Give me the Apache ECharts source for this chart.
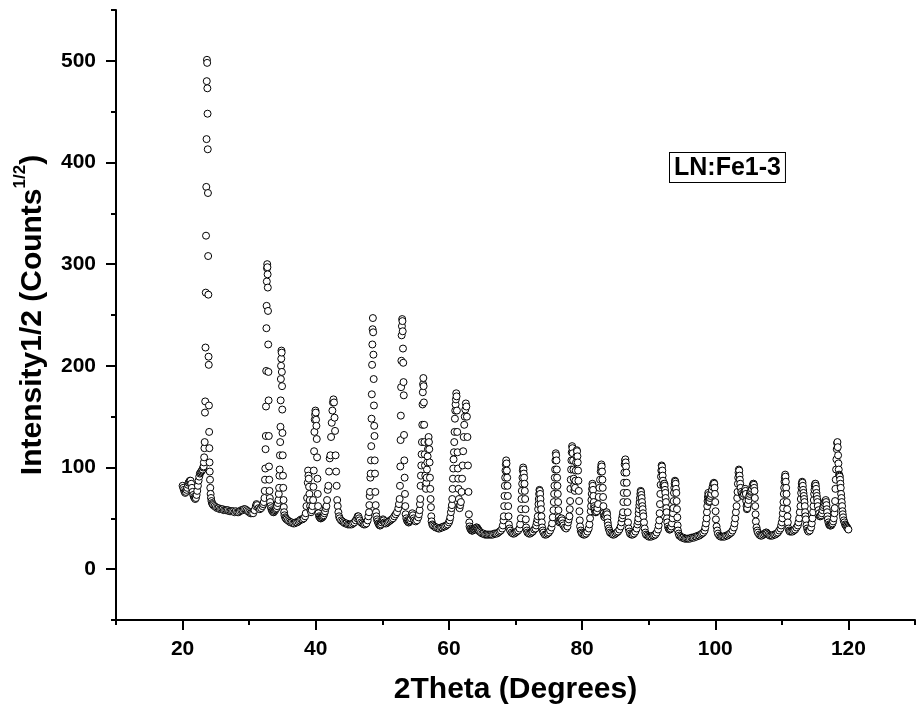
<!DOCTYPE html>
<html><head><meta charset="utf-8">
<script src="https://cdn.jsdelivr.net/npm/echarts@6/dist/echarts.min.js"></script>
<style>html,body{margin:0;padding:0;background:#fff}#c{width:918px;height:718px}</style>
</head><body><div id="c"></div>
<script>
const xTickLabels = [20, 40, 60, 80, 100, 120];
const yTickLabels = [0, 100, 200, 300, 400, 500];
const sampleLabel = 'LN:Fe1-3';
const xTitle = '2Theta (Degrees)';

// 2θ (deg), intensity^1/2
const scan20to32 = [
[20.0,82],[20.1,80],[20.2,78],[20.3,76],[20.4,75],[20.5,76],[20.6,78],[20.7,80],[20.8,83],[20.9,85],[21.0,86],[21.1,87],[21.2,87],[21.3,84],[21.4,80],[21.5,76],[21.6,73],[21.7,71],[21.8,70],[21.9,69],[22.0,70],[22.1,73],[22.2,77],[22.3,82],[22.4,87],[22.5,91],[22.6,94],[22.7,95],[22.8,96],[22.9,97],[23.0,98],[23.1,100],
[23.16,101],[23.2,105],[23.24,110],[23.28,119],[23.32,125],[23.36,154],[23.4,165],[23.44,218],[23.48,272],[23.52,328],[23.56,376],[23.6,423],[23.63,480],[23.66,501],[23.69,498],[23.72,473],[23.75,448],[23.78,413],[23.81,370],[23.84,308],[23.87,270],[23.9,209],[23.93,201],[23.96,161],[23.99,135],[24.02,119],[24.05,105],[24.08,96],[24.12,88],[24.16,80],[24.21,74],[24.27,70],[24.34,67],[24.42,65],[24.5,64],
[24.6,63],[24.8,62],[25.0,61],[25.2,60],[25.4,60],[25.6,59],[25.8,59],[26.0,59],[26.2,58],[26.4,58],[26.6,58],[26.8,58],[27.0,57],[27.2,57],[27.4,57],[27.6,57],[27.8,56],[28.0,57],[28.2,56],[28.4,56],[28.6,57],[28.8,58],[29.0,58],[29.2,59],[29.4,59],[29.6,58],[29.8,57],[30.0,56],[30.2,55],[30.4,55],[30.6,55],[30.8,58],[31.0,62],[31.1,64],[31.2,63],[31.4,60],[31.6,59],[31.8,60],[32.0,62],[32.1,64],[32.2,66]
];
const scan32to48 = [
[32.3,70],[32.34,77],[32.38,88],[32.42,99],[32.46,118],[32.5,131],[32.53,160],[32.56,195],[32.59,237],[32.62,259],[32.65,283],[32.68,296],[32.71,300],[32.74,297],[32.77,290],[32.8,277],[32.83,254],[32.86,221],[32.89,194],[32.92,166],[32.95,131],[32.98,101],[33.02,88],[33.06,77],[33.1,70],[33.15,66],[33.2,62],
[33.3,60],[33.4,58],[33.5,57],[33.6,56],[33.7,56],[33.8,57],[33.9,58],[34.0,59],[34.1,60],[34.2,62],[34.3,65],[34.4,68],
[34.45,74],[34.5,80],[34.54,92],[34.58,98],[34.62,112],[34.66,125],[34.7,140],[34.73,166],[34.76,187],[34.79,200],[34.82,207],[34.85,215],[34.88,213],[34.91,194],[34.94,180],[34.97,157],[35.0,134],[35.04,112],[35.08,92],[35.12,80],[35.16,68],[35.2,61],[35.25,56],
[35.3,53],[35.4,51],[35.5,50],[35.6,49],[35.8,48],[36.0,47],[36.2,46],[36.4,46],[36.6,45],[36.8,45],[37.0,46],[37.2,46],[37.4,47],[37.6,48],[37.8,49],[38.0,49],[38.2,50],[38.4,52],[38.5,55],[38.6,62],
[38.7,70],[38.8,85],[38.85,97],[38.9,92],[38.95,89],[39.0,81],[39.05,74],[39.1,68],[39.15,62],[39.2,58],[39.3,56],[39.4,58],[39.5,62],[39.6,68],
[39.65,81],[39.7,97],[39.75,116],[39.8,135],[39.85,147],[39.9,152],[39.95,156],[40.0,154],[40.05,147],[40.1,141],[40.15,128],[40.2,110],[40.25,89],[40.3,74],[40.35,62],[40.4,55],[40.5,52],
[40.6,51],[40.7,50],[40.8,50],[40.9,51],[41.0,51],[41.1,52],[41.2,53],[41.3,55],[41.4,57],[41.5,60],
[41.6,62],[41.7,68],[41.8,78],[41.9,82],[42.0,96],[42.1,109],[42.2,112],[42.3,130],[42.4,144],[42.5,156],[42.58,164],[42.66,167],[42.74,164],[42.82,149],[42.9,136],[42.98,112],[43.06,96],[43.14,82],[43.22,68],[43.3,62],[43.4,56],
[43.5,52],[43.6,50],[43.8,48],[44.0,47],[44.2,46],[44.4,45],[44.6,45],[44.8,44],[45.0,44],[45.2,44],[45.4,44],[45.6,45],[45.8,46],[46.0,48],[46.2,50],[46.3,52],[46.4,52],[46.5,50],[46.6,48],[46.8,46],[47.0,45],[47.2,44],[47.4,44],[47.6,45],[47.8,48],[47.9,52],[48.0,56]
];
const scan48to64 = [
[48.05,63],[48.1,72],[48.15,76],[48.2,90],[48.25,94],[48.3,107],[48.34,121],[48.38,148],[48.42,172],[48.46,201],[48.5,221],[48.54,236],[48.58,247],[48.62,233],[48.66,211],[48.7,187],[48.74,161],[48.78,141],[48.82,131],[48.86,107],[48.9,94],[48.95,76],[49.0,63],[49.05,56],[49.1,52],
[49.2,49],[49.3,47],[49.4,45],[49.5,44],[49.6,43],[49.7,43],[49.8,44],[49.9,46],[50.0,48],[50.1,49],[50.2,48],[50.3,46],[50.4,45],[50.6,45],[50.8,46],[51.0,47],[51.2,48],[51.4,49],[51.6,50],[51.8,52],[52.0,54],[52.2,56],[52.4,60],[52.5,64],
[52.6,69],[52.65,82],[52.7,101],[52.74,127],[52.78,151],[52.82,179],[52.86,205],[52.9,230],[52.94,239],[52.98,246],[53.02,244],[53.06,234],[53.1,217],[53.14,203],[53.18,184],[53.22,171],[53.26,132],[53.3,107],[53.35,90],[53.4,74],[53.45,62],[53.5,54],
[53.6,50],[53.7,48],[53.8,47],[53.9,46],[54.0,46],[54.1,47],[54.2,48],[54.3,50],[54.4,53],[54.5,55],[54.6,53],[54.7,50],[54.8,48],[55.0,47],[55.2,48],[55.4,51],[55.5,54],[55.6,58],
[55.65,64],[55.7,69],[55.75,82],[55.8,92],[55.85,102],[55.9,113],[55.95,125],[56.0,142],[56.04,162],[56.08,174],[56.12,182],[56.16,188],[56.2,180],[56.24,164],[56.28,142],[56.32,125],[56.36,113],[56.4,102],[56.45,92],[56.5,82],[56.55,79],[56.6,85],[56.65,90],[56.7,98],[56.75,105],[56.8,111],[56.85,118],[56.9,125],[56.95,130],[57.0,125],[57.05,118],[57.1,105],[57.15,90],[57.2,79],[57.25,69],[57.3,61],[57.35,52],[57.4,47],
[57.5,44],[57.6,43],[57.8,42],[58.0,41],[58.2,41],[58.4,40],[58.6,40],[58.8,41],[59.0,41],[59.2,42],[59.4,42],[59.6,43],[59.8,44],[60.0,46],[60.1,48],[60.2,51],[60.3,56],[60.4,60],
[60.45,63],[60.5,69],[60.55,79],[60.6,89],[60.65,99],[60.7,108],[60.75,115],[60.8,125],[60.85,135],[60.9,148],[60.95,156],[61.0,162],[61.05,167],[61.1,173],[61.15,170],[61.2,156],[61.25,135],[61.3,115],[61.35,99],[61.4,89],[61.45,79],[61.5,69],[61.55,62],[61.6,60],
[61.7,63],[61.8,66],[61.9,76],[61.98,89],[62.06,102],[62.14,116],[62.22,130],[62.3,142],[62.38,150],[62.46,157],[62.54,163],[62.62,160],[62.7,150],[62.78,130],[62.86,102],[62.94,76],[63.0,54],[63.06,46],
[63.1,42],[63.2,40],[63.3,39],[63.4,38],[63.5,38],[63.6,38],[63.7,39],[63.8,39],[63.9,40]
];
const scan64to84 = [
[64.0,40],[64.1,41],[64.2,41],[64.3,40],[64.4,39],[64.5,38],[64.6,37],[64.8,36],[65.0,35],[65.2,35],[65.4,34],[65.6,34],[65.8,34],[66.0,34],[66.2,34],[66.4,34],[66.6,34],[66.8,35],[67.0,35],[67.2,35],[67.4,36],[67.6,37],[67.8,38],[68.0,40],[68.1,43],[68.2,48],
[68.25,52],[68.3,62],[68.35,72],[68.4,82],[68.45,90],[68.5,97],[68.55,103],[68.6,107],[68.65,104],[68.7,97],[68.75,90],[68.8,82],[68.85,72],[68.9,62],[68.95,52],[69.0,44],
[69.1,40],[69.2,38],[69.4,36],[69.6,35],[69.8,35],[70.0,36],[70.2,37],[70.4,38],[70.6,40],[70.7,44],[70.8,50],
[70.85,59],[70.9,69],[70.95,77],[71.0,84],[71.05,90],[71.1,97],[71.15,100],[71.2,98],[71.25,94],[71.3,90],[71.35,84],[71.4,77],[71.45,69],[71.5,59],[71.55,49],[71.6,41],
[71.7,38],[71.8,36],[72.0,35],[72.2,35],[72.4,36],[72.6,37],[72.8,39],[73.0,40],[73.1,43],[73.2,46],[73.3,49],
[73.35,52],[73.4,59],[73.45,64],[73.5,69],[73.55,74],[73.6,78],[73.65,77],[73.7,74],[73.75,69],[73.8,64],[73.85,59],[73.9,52],[73.95,46],[74.0,41],
[74.1,38],[74.2,36],[74.4,34],[74.6,34],[74.8,35],[75.0,36],[75.2,38],[75.4,41],[75.5,45],[75.6,51],
[75.7,58],[75.75,66],[75.8,74],[75.85,82],[75.9,90],[75.95,98],[76.0,107],[76.05,114],[76.1,112],[76.15,107],[76.2,98],[76.25,90],[76.3,82],[76.35,74],[76.4,66],[76.45,58],[76.5,51],[76.55,48],
[76.6,46],[76.7,47],[76.8,49],[76.9,50],[77.0,48],[77.1,45],[77.2,43],[77.4,41],[77.6,40],[77.8,42],[77.9,46],[78.0,49],
[78.1,52],[78.15,59],[78.2,67],[78.25,79],[78.3,88],[78.35,98],[78.4,107],[78.45,115],[78.5,121],[78.55,119],[78.6,114],[78.65,107],[78.7,98],[78.75,89],[78.8,82],[78.85,78],
[78.9,77],[78.95,80],[79.0,87],[79.05,97],[79.1,105],[79.15,111],[79.2,117],[79.25,116],[79.3,111],[79.35,105],[79.4,97],[79.45,87],[79.5,77],[79.55,67],[79.6,57],[79.65,48],[79.7,42],
[79.8,38],[79.9,36],[80.0,35],[80.2,34],[80.4,34],[80.6,35],[80.8,37],[81.0,40],[81.1,44],[81.2,50],
[81.3,57],[81.35,62],[81.4,68],[81.45,74],[81.5,79],[81.55,84],[81.6,82],[81.65,78],[81.7,72],[81.75,66],[81.8,62],[81.85,60],
[81.9,58],[82.0,56],[82.1,56],[82.2,57],[82.3,60],
[82.4,64],[82.5,71],[82.6,80],[82.7,88],[82.8,96],[82.85,100],[82.9,103],[82.95,101],[83.0,96],[83.05,88],[83.1,80],[83.15,71],[83.2,62],[83.25,55],
[83.3,52],[83.4,51],[83.5,53],[83.6,55],[83.7,56],[83.75,54],[83.8,50],[83.85,46],[83.9,43]
];
const scan84to104 = [
[84.0,40],[84.1,38],[84.2,36],[84.4,35],[84.6,34],[84.8,34],[85.0,35],[85.2,36],[85.4,37],[85.6,39],[85.8,42],[85.9,46],[86.0,50],[86.1,53],
[86.15,56],[86.2,66],[86.25,75],[86.3,85],[86.35,95],[86.4,103],[86.45,107],[86.5,108],[86.55,105],[86.6,101],[86.65,95],[86.7,85],[86.75,75],[86.8,66],[86.85,56],[86.9,46],[87.0,40],
[87.1,37],[87.2,35],[87.4,34],[87.6,34],[87.8,35],[88.0,37],[88.2,40],[88.3,44],[88.4,47],
[88.45,50],[88.5,55],[88.55,59],[88.6,63],[88.65,66],[88.7,70],[88.75,74],[88.8,77],[88.85,76],[88.9,73],[88.95,70],[89.0,66],[89.05,62],[89.1,59],[89.15,55],[89.2,52],[89.3,46],[89.4,40],
[89.5,36],[89.6,34],[89.8,33],[90.0,32],[90.2,32],[90.4,32],[90.6,33],[90.8,33],[91.0,34],[91.2,36],[91.4,39],[91.5,43],[91.6,48],
[91.65,55],[91.7,64],[91.75,74],[91.8,83],[91.85,91],[91.9,97],[91.95,102],[92.0,101],[92.05,97],[92.1,92],[92.15,87],[92.2,83],[92.25,82],[92.3,84],
[92.35,84],[92.4,82],[92.45,78],[92.5,75],[92.55,70],[92.6,66],[92.65,60],[92.7,56],[92.75,50],[92.8,46],[92.9,42],[93.0,40],
[93.1,39],[93.2,39],[93.3,40],[93.4,42],[93.5,45],[93.6,50],
[93.65,55],[93.7,60],[93.75,67],[93.8,75],[93.85,80],[93.9,84],[93.95,87],[94.0,86],[94.05,84],[94.1,79],[94.15,75],[94.2,67],[94.25,59],[94.3,51],[94.35,43],[94.4,38],[94.5,35],
[94.6,33],[94.8,32],[95.0,31],[95.2,31],[95.4,30],[95.6,30],[95.8,30],[96.0,30],[96.2,30],[96.4,31],[96.6,31],[96.8,31],[97.0,32],[97.2,32],[97.4,33],[97.6,33],[97.8,34],[98.0,35],[98.2,36],[98.4,38],[98.5,41],[98.6,45],
[98.7,50],[98.75,56],[98.8,62],[98.85,67],[98.9,71],[98.95,75],[99.0,73],[99.05,69],[99.1,66],[99.15,67],[99.2,70],[99.3,72],
[99.4,74],[99.5,78],[99.6,81],[99.7,84],[99.8,85],[99.85,84],[99.9,80],[99.95,74],[100.0,66],[100.05,57],[100.1,49],[100.2,42],[100.3,38],
[100.4,35],[100.6,33],[100.8,32],[101.0,32],[101.2,32],[101.4,32],[101.6,33],[101.8,33],[102.0,34],[102.2,35],[102.4,36],[102.6,38],[102.8,41],[102.9,45],[103.0,50],
[103.1,56],[103.2,62],[103.3,70],[103.35,76],[103.4,84],[103.45,90],[103.5,95],[103.55,98],[103.6,97],[103.65,92],[103.7,88],[103.75,84],[103.8,80],
[103.9,76],[104.0,74],[104.1,72],[104.2,72],[104.3,74],[104.4,77],[104.5,79],[104.55,77],[104.6,74],[104.65,67],[104.7,62],[104.75,59]
];
const scan105to120 = [
[104.8,60],[104.9,64],[105.0,68],[105.1,72],[105.2,74],[105.3,76],[105.4,77],[105.5,79],[105.6,82],[105.7,84],[105.75,84],[105.8,83],[105.85,80],[105.9,77],[105.95,70],[106.0,62],[106.05,54],[106.1,47],[106.2,41],[106.3,38],
[106.4,36],[106.6,34],[106.8,33],[107.0,33],[107.2,34],[107.4,35],[107.6,36],[107.7,36],[107.8,35],[108.0,34],[108.2,33],[108.4,33],[108.6,33],[108.8,34],[109.0,34],[109.2,35],[109.4,36],[109.6,38],[109.8,40],[109.9,43],[110.0,46],
[110.1,50],[110.15,55],[110.2,60],[110.25,66],[110.3,74],[110.35,80],[110.4,86],[110.45,90],[110.5,93],[110.55,91],[110.6,86],[110.65,80],[110.7,74],[110.75,66],[110.8,59],[110.85,52],[110.9,46],[111.0,40],[111.1,38],
[111.2,37],[111.4,37],[111.6,37],[111.8,38],[112.0,39],[112.2,41],[112.4,43],[112.5,46],[112.6,50],
[112.7,56],[112.8,62],[112.85,69],[112.9,75],[112.95,80],[113.0,84],[113.05,86],[113.1,85],[113.15,82],[113.2,78],[113.25,75],[113.3,72],[113.35,69],[113.4,66],[113.45,62],[113.5,56],[113.55,52],[113.6,49],[113.7,43],[113.8,40],
[113.9,38],[114.0,37],[114.2,38],[114.4,41],[114.5,45],[114.6,50],
[114.7,56],[114.75,62],[114.8,68],[114.85,74],[114.9,78],[114.95,82],[115.0,84],[115.05,84],[115.1,82],[115.15,79],[115.2,75],[115.25,72],[115.3,69],[115.35,66],[115.4,62],[115.5,58],[115.6,55],[115.7,52],
[115.8,52],[115.9,53],[116.0,55],[116.1,58],[116.2,61],[116.3,63],[116.4,65],[116.5,67],[116.6,68],[116.65,66],[116.7,63],[116.75,59],[116.8,56],[116.85,52],[116.9,49],[117.0,46],[117.1,44],[117.2,43],
[117.3,43],[117.4,43],[117.5,44],[117.6,45],[117.7,47],[117.8,50],[117.9,55],
[117.95,60],[118.0,67],[118.05,79],[118.1,88],[118.15,98],[118.2,108],[118.25,118],[118.3,124],[118.35,125],[118.4,120],[118.45,112],[118.5,104],[118.55,98],[118.6,93],[118.65,92],
[118.7,91],[118.75,88],[118.8,84],[118.85,80],[118.9,74],[118.95,70],[119.0,66],[119.05,62],[119.1,57],[119.15,54],[119.2,51],[119.3,48],[119.4,46],[119.5,44],[119.6,43],[119.7,42],[119.8,41],[119.9,40],[120.0,39]
];

const scanPoints = [].concat(scan20to32, scan32to48, scan48to64, scan64to84, scan84to104, scan105to120);

const FONT = '"Liberation Sans", Arial, Helvetica, sans-serif';
const chart = echarts.init(document.getElementById('c'), null, {renderer: 'canvas'});
const tickStyle = {color: '#000', width: 2};
chart.setOption({
  animation: false,
  backgroundColor: '#fff',
  grid: {left: 116, top: 10, right: -3, bottom: 98, containLabel: false},
  xAxis: [
    {
      type: 'value', min: 10, max: 130, interval: 10,
      axisLine: {onZero: false, lineStyle: {color: '#000', width: 2}},
      axisTick: {length: 5, lineStyle: tickStyle},
      splitLine: {show: false},
      axisLabel: {
        formatter: v => xTickLabels.includes(v) ? String(v) : '',
        fontSize: 21, fontWeight: 'bold', color: '#000', fontFamily: FONT, margin: 19
      },
      name: xTitle, nameLocation: 'middle', nameGap: 55,
      nameTextStyle: {fontSize: 30, fontWeight: 'bold', color: '#000', fontFamily: FONT}
    },
    {
      type: 'value', min: 10, max: 130, position: 'bottom',
      axisLine: {show: false, onZero: false},
      axisTick: {customValues: xTickLabels, length: 10, lineStyle: tickStyle},
      axisLabel: {show: false}, splitLine: {show: false}
    }
  ],
  yAxis: [
    {
      type: 'value', min: -50, max: 550, interval: 50,
      axisLine: {show: true, onZero: false, lineStyle: {color: '#000', width: 2}},
      axisTick: {show: true, length: 5, lineStyle: tickStyle},
      splitLine: {show: false},
      axisLabel: {
        formatter: v => yTickLabels.includes(v) ? String(v) : '',
        fontSize: 21, fontWeight: 'bold', color: '#000', fontFamily: FONT, margin: 20
      },
      name: '{a|Intensity1/2 (Counts}{s|1/2}{a|)}', nameLocation: 'middle', nameGap: 68, nameRotate: 90,
      nameTextStyle: {
        color: '#000', fontFamily: FONT,
        rich: {
          a: {fontSize: 30, fontWeight: 'bold', fontFamily: FONT, color: '#000', lineHeight: 36, verticalAlign: 'bottom'},
          s: {fontSize: 17, fontWeight: 'bold', fontFamily: FONT, color: '#000', lineHeight: 36, verticalAlign: 'top'}
        }
      }
    },
    {
      type: 'value', min: -50, max: 550, position: 'left',
      axisLine: {show: false, onZero: false},
      axisTick: {show: true, customValues: yTickLabels, length: 10, lineStyle: tickStyle},
      axisLabel: {show: false}, splitLine: {show: false}
    }
  ],
  graphic: [{
    type: 'text', left: 669, top: 152, z: 100,
    style: {
      text: sampleLabel, font: 'bold 25px ' + FONT, fill: '#000',
      backgroundColor: '#fff', borderColor: '#000', borderWidth: 1, padding: [3, 4, 1, 4]
    }
  }],
  series: [{
    type: 'scatter', xAxisIndex: 0, yAxisIndex: 0,
    data: scanPoints,
    symbol: 'circle', symbolSize: 7,
    itemStyle: {color: '#fff', borderColor: '#000', borderWidth: 1, opacity: 1},
    emphasis: {disabled: true},
    large: false, progressive: 0
  }]
});
</script></body></html>
